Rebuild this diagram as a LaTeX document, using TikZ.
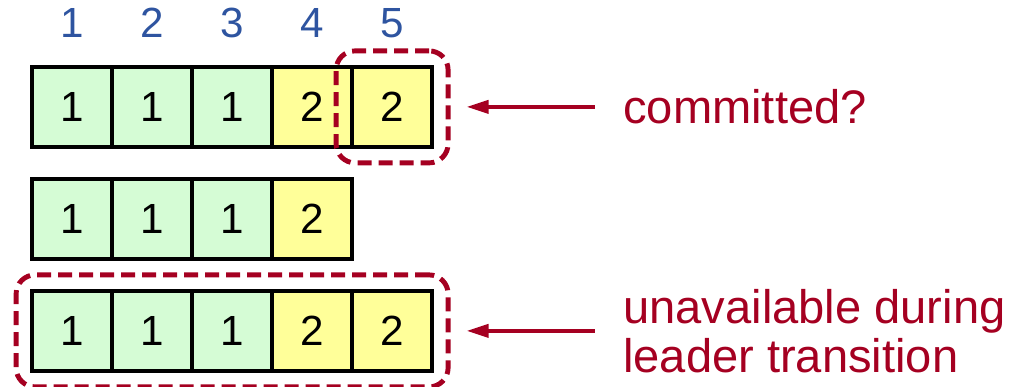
\documentclass[tikz,border=0pt]{standalone}
\usepackage{fontspec}
\setmainfont{Liberation Sans}
\usepackage{tikz}
\usetikzlibrary{matrix,fit,positioning,arrows.meta}

\definecolor{termred}{RGB}{165,0,33}
\definecolor{idxblue}{RGB}{46,84,160}
\definecolor{oldterm}{RGB}{213,252,213}
\definecolor{newterm}{RGB}{255,255,153}

\tikzset{
  entry/.style={draw, line width=1.2pt, minimum size=0.8cm, inner sep=0pt, outer sep=0pt,
    font=\fontsize{12}{13}\selectfont},
  t1/.style={entry, fill=oldterm},
  t2/.style={entry, fill=newterm},
  idx/.style={minimum width=0.8cm, minimum height=0.8cm, inner sep=0pt, text=idxblue,
    font=\fontsize{12}{13}\selectfont},
  hilite/.style={draw=termred, line width=1.4pt, dash pattern=on 0.14cm off 0.07cm,
    rounded corners=0.19cm, inner sep=0.16cm},
  note/.style={inner sep=0pt, text=termred, align=left,
    font=\fontsize{13.4}{13.9}\selectfont},
  pointer/.style={-{Triangle[length=0.22cm,width=0.13cm]}, draw=termred, fill=termred,
    line width=1.1pt, shorten <=0.28cm, shorten >=0.16cm}
}

\begin{document}
\begin{tikzpicture}
  \useasboundingbox (0,0) rectangle (10.12,-3.87);
  \matrix (log) [anchor=north west, inner sep=0pt, outer sep=0pt,
    row sep=0.32cm-1.2pt, column sep=-1.2pt] at (0.30,0.17) {
  \node (i1) [idx] {1}; & \node (i2) [idx] {2}; & \node (i3) [idx] {3}; &
  \node (i4) [idx] {4}; & \node (i5) [idx] {5}; \\[-0.26cm]
  \node (a1) [t1] {1}; & \node (a2) [t1] {1}; & \node (a3) [t1] {1}; &
  \node (a4) [t2] {2}; & \node (a5) [t2] {2}; \\
  \node (b1) [t1] {1}; & \node (b2) [t1] {1}; & \node (b3) [t1] {1}; &
  \node (b4) [t2] {2}; & \\
  \node (c1) [t1] {1}; & \node (c2) [t1] {1}; & \node (c3) [t1] {1}; &
  \node (c4) [t2] {2}; & \node (c5) [t2] {2}; \\};

  \node (box1) [hilite, fit=(a5)] {};
  \node (box2) [hilite, fit=(c1)(c5)] {};

  \node (lbl1) [note, right=1.72cm of box1] {committed?};
  \node (lbl2) [note, right=1.72cm of box2] {unavailable during\\leader transition};

  \draw[pointer] (lbl1.west) -- (box1.east);
  \draw[pointer] (lbl2.west) -- (box2.east);
\end{tikzpicture}
\end{document}
